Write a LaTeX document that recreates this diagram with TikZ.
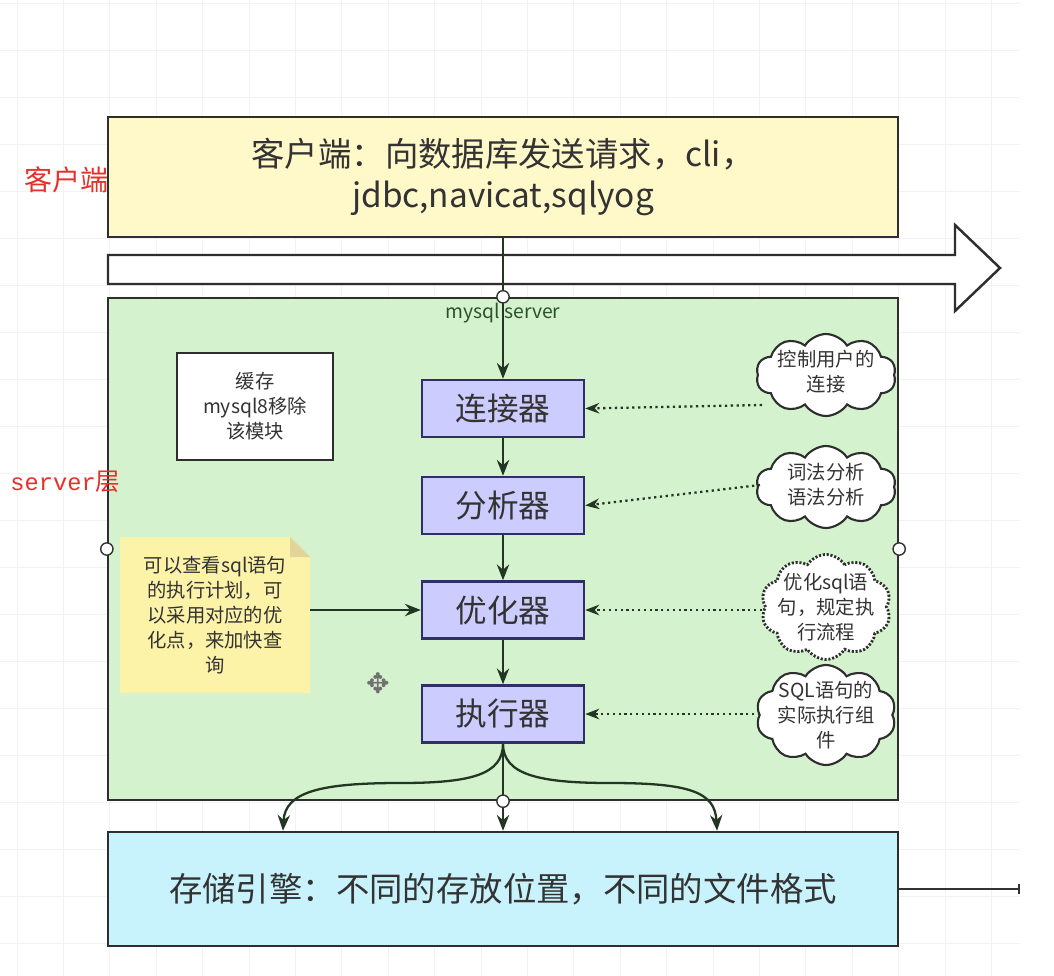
\documentclass[tikz,border=0pt]{standalone}
\usepackage{fontspec}
\newfontfamily\cjk{Noto Sans CJK SC}
\newfontfamily\monof{Liberation Mono}
\newfontfamily\symf{DejaVu Sans}
\usetikzlibrary{shapes.symbols,arrows.meta,calc}
\definecolor{clientfill}{HTML}{FFF8C8}
\definecolor{serverfill}{HTML}{D4F2CD}
\definecolor{procfill}{HTML}{CCCCFF}
\definecolor{procdraw}{HTML}{2F2F66}
\definecolor{storefill}{HTML}{C9F3FC}
\definecolor{notefill}{HTML}{FCF2A8}
\definecolor{notefold}{HTML}{E2D49A}
\definecolor{linec}{HTML}{233623}
\definecolor{txt}{HTML}{333333}
\definecolor{redlab}{HTML}{E8302A}
\definecolor{gridc}{HTML}{F2F2F2}
\tikzset{
  bigbox/.style={draw=txt!90!black, line width=1.4pt, minimum width=15.8cm, text=txt, align=center, inner sep=0pt},
  procbox/.style={draw=procdraw, fill=procfill, line width=1.4pt, minimum width=3.24cm, minimum height=1.14cm, font=\cjk\fontsize{18}{22}\selectfont, text=txt, inner sep=0pt},
  cloudbox/.style={cloud, cloud puffs=10, cloud puff arc=115, draw=txt!90!black, fill=white, line width=1.2pt, inner sep=0pt, aspect=1.6},
  smalltxt/.style={font=\cjk\fontsize{11}{14.2}\selectfont, text=txt, align=center, inner sep=0pt},
  arr/.style={draw=linec, line width=1.3pt, -{Stealth[length=9pt,width=7pt]}},
  dotarr/.style={draw=linec, line width=1.3pt, dotted, -{Stealth[length=8pt,width=6pt]}},
  cdot/.style={circle, draw=txt, fill=white, line width=0.8pt, minimum size=7pt, inner sep=0pt},
  redtxt/.style={text=redlab, inner sep=0pt},
}
\begin{document}
\begin{tikzpicture}[x=0.02cm,y=-0.02cm,font=\cjk]
\useasboundingbox (0,0) rectangle (1054,976);
\fill[white] (0,0) rectangle (1054,976);
% grid
\foreach \k in {0,...,21} { \draw[gridc, line width=0.5pt] ({17+46.4*\k},0) -- ({17+46.4*\k},976); }
\foreach \k in {0,...,20} { \draw[gridc, line width=0.5pt] (0,{3+47*\k}) -- (1020,{3+47*\k}); }

% client box
\node[bigbox, fill=clientfill, minimum height=2.4cm, font=\cjk\fontsize{19}{22.8}\selectfont] (client) at (503,177)
  {客户端：向数据库发送请求，cli，\\jdbc,navicat,sqlyog};

% big arrow
\draw[draw=txt!90!black, fill=white, line width=1.4pt, line join=miter]
  (108,255) -- (955,255) -- (955,225) -- (1000,268) -- (955,311) -- (955,284) -- (108,284) -- cycle;

% server box
\node[bigbox, fill=serverfill, minimum height=10.04cm] (server) at (503,549) {};
\node[font=\cjk\fontsize{11}{13}\selectfont, text=txt!85!green, inner sep=0pt] (srvlab) at (503,313) {mysql server};

% storage
\node[bigbox, fill=storefill, minimum height=2.28cm, font=\cjk\fontsize{19}{22.8}\selectfont] (storage) at (503,889)
  {存储引擎：不同的存放位置，不同的文件格式};

% process boxes
\node[procbox] (b1) at (503,408.5) {连接器};
\node[procbox] (b2) at (503,505.5) {分析器};
\node[procbox] (b3) at (503,610) {优化器};
\node[procbox] (b4) at (503,714) {执行器};

% cache box
\node[draw=txt!90!black, fill=white, line width=1.4pt, minimum width=3.12cm, minimum height=2.14cm, smalltxt] (cache) at (255,406.5)
  {缓存\\mysql8移除\\该模块};

% note
\fill[notefill] (120,537) -- (290,537) -- (310,557) -- (310,693) -- (120,693) -- cycle;
\fill[notefold] (290,537) -- (310,557) -- (290,557) -- cycle;
\node[smalltxt, minimum width=3.8cm, minimum height=3.12cm] (note) at (215,615)
  {可以查看sql语句\\的执行计划，可\\以采用对应的优\\化点，来加快查\\询};

% clouds
\node[cloudbox, minimum width=2.8cm, minimum height=1.64cm] (c1) at (826,375) {};
\node[smalltxt] (c1t) at (826,372) {控制用户的\\连接};
\node[cloudbox, minimum width=2.8cm, minimum height=1.64cm] (c2) at (826,487) {};
\node[smalltxt] (c2t) at (826,485) {词法分析\\语法分析};
\node[cloudbox, densely dotted, line width=1.6pt, minimum width=2.6cm, minimum height=2.1cm] (c3) at (826,607) {};
\node[smalltxt] (c3t) at (826,607) {优化sql语\\句，规定执\\行流程};
\node[cloudbox, minimum width=2.8cm, minimum height=2.0cm] (c4) at (826,715) {};
\node[smalltxt] (c4t) at (826,715) {SQL语句的\\实际执行组\\件};

% connectors
\draw[arr] (client.south) -- (b1.north);
\draw[arr] (b1) -- (b2);
\draw[arr] (b2) -- (b3);
\draw[arr] (b3) -- (b4);
\draw[arr] (note.east |- b3.west) -- (b3.west);
\coordinate (k1) at (762,405);
\coordinate (k2) at (760,485);
\coordinate (k3) at (762,610);
\coordinate (k4) at (760,714);
\draw[dotarr] (k1) -- (b1.east);
\draw[dotarr] (k2) -- (b2.east);
\draw[dotarr] (k3) -- (b3.east);
\draw[dotarr] (k4) -- (b4.east);

\coordinate (sL) at ($(storage.north)+(-220,0)$);
\coordinate (sR) at ($(storage.north)+(214,0)$);
\draw[arr] (b4.south) .. controls (503,775) and (470,783) .. (400,783) .. controls (320,783) and (285,792) .. (sL);
\draw[arr] (b4.south) .. controls (503,775) and (540,783) .. (610,783) .. controls (690,783) and (715,792) .. (sR);
\draw[arr] (b4.south) -- (storage.north);

\coordinate (tail) at (1020,889);
\draw[draw=txt, line width=1.4pt, -{Bar[width=6pt]}] (storage.east) -- (tail);

% connection dots
\node[cdot] (p1) at (server.north) {};
\node[cdot] (p2) at (server.west) {};
\node[cdot] (p3) at (server.east) {};
\node[cdot] (p4) at (server.south) {};

% move icon
\node[text=txt!70, font=\symf\fontsize{16}{16}\selectfont, inner sep=0pt] (move) at (378,683) {✥};

% red labels
\node[redtxt, font=\cjk\fontsize{16}{18}\selectfont, anchor=west] (lab1) at (24,180) {客户端};
\node[redtxt, anchor=west] (lab2) at (10,482) {{\monof\fontsize{13.5}{16}\selectfont server}{\cjk\fontsize{14}{16}\selectfont 层}};
\end{tikzpicture}
\end{document}
